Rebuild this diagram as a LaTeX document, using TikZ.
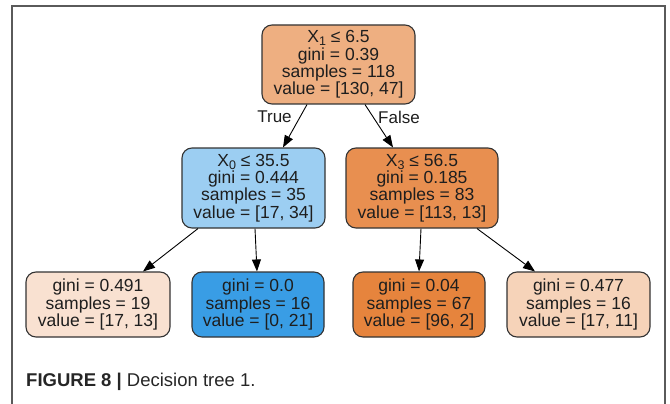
\documentclass[tikz,border=0pt]{standalone}
\usepackage{fontspec}
\setmainfont{Liberation Sans}
\usetikzlibrary{arrows.meta,calc}
\definecolor{cRoot}{RGB}{238,175,129}
\definecolor{cLM}{RGB}{156,206,242}
\definecolor{cRM}{RGB}{232,143,80}
\definecolor{cLa}{RGB}{249,225,209}
\definecolor{cLb}{RGB}{57,157,229}
\definecolor{cLc}{RGB}{230,132,61}
\definecolor{cLd}{RGB}{246,211,185}
\definecolor{frameGray}{RGB}{90,90,90}
\definecolor{txt}{RGB}{30,30,30}
\newcommand{\subx}[1]{\raisebox{-3pt}{\fontsize{12.5}{12.5}\selectfont #1}}
\tikzset{
  treenode/.style={draw=black!80, line width=1.1pt, rounded corners=10pt,
    align=center, inner sep=0pt, text=txt,
    font=\fontsize{17.5}{17.3}\selectfont},
  edge/.style={draw=black, line width=0.9pt, -{Triangle[length=12pt,width=9pt]}},
  elabel/.style={font=\fontsize{17}{17}\selectfont, text=txt, inner sep=0pt},
}
\begin{document}
\begin{tikzpicture}[x=1pt,y=-1pt]
\useasboundingbox (0,0) rectangle (670,404);
% frame
\draw[frameGray, line width=1.3pt] (12,404) -- (12,6) -- (665,6) -- (665,404);
% nodes
\node[treenode, fill=cRoot, minimum width=153pt, minimum height=79pt] (root) at (338.5,64.5)
  {X\subx{1} ≤ 6.5\\gini = 0.39\\samples = 118\\value = [130, 47]};
\node[treenode, fill=cLM, minimum width=143pt, minimum height=80pt] (lm) at (253.5,188)
  {X\subx{0} ≤ 35.5\\gini = 0.444\\samples = 35\\value = [17, 34]};
\node[treenode, fill=cRM, minimum width=152pt, minimum height=80pt] (rm) at (422,188)
  {X\subx{3} ≤ 56.5\\gini = 0.185\\samples = 83\\value = [113, 13]};
\node[treenode, fill=cLa, minimum width=144pt, minimum height=65pt] (la) at (98,304.5)
  {gini = 0.491\\samples = 19\\value = [17, 13]};
\node[treenode, fill=cLb, minimum width=132pt, minimum height=65pt] (lb) at (258,304.5)
  {gini = 0.0\\samples = 16\\value = [0, 21]};
\node[treenode, fill=cLc, minimum width=132pt, minimum height=65pt] (lc) at (419,304.5)
  {gini = 0.04\\samples = 67\\value = [96, 2]};
\node[treenode, fill=cLd, minimum width=143pt, minimum height=65pt] (ld) at (578.5,304.5)
  {gini = 0.477\\samples = 16\\value = [17, 11]};
% edges
\draw[edge] ([xshift=-31.5pt]root.south) -- ([xshift=29.5pt]lm.north);
\draw[edge] ([xshift=26.5pt]root.south) -- ([xshift=-29pt]rm.north);
\draw[edge] ([xshift=-55.5pt]lm.south) -- ([xshift=45pt]la.north);
\draw[edge] ([xshift=1.5pt]lm.south) -- ([xshift=-1pt]lb.north);
\draw[edge] ([xshift=-1pt]rm.south) -- (lc.north);
\draw[edge] ([xshift=55pt]rm.south) -- ([xshift=-43.5pt]ld.north);
% edge labels
\node[elabel] (tl) at (274.5,117) {True};
\node[elabel] (fl) at (399,117) {False};
% caption
\node[anchor=west, inner sep=0pt, font=\fontsize{18.5}{18.5}\selectfont, text=black!85] (cap) at (26,382)
  {\textbf{FIGURE 8 |} Decision tree 1.};
\end{tikzpicture}
\end{document}
